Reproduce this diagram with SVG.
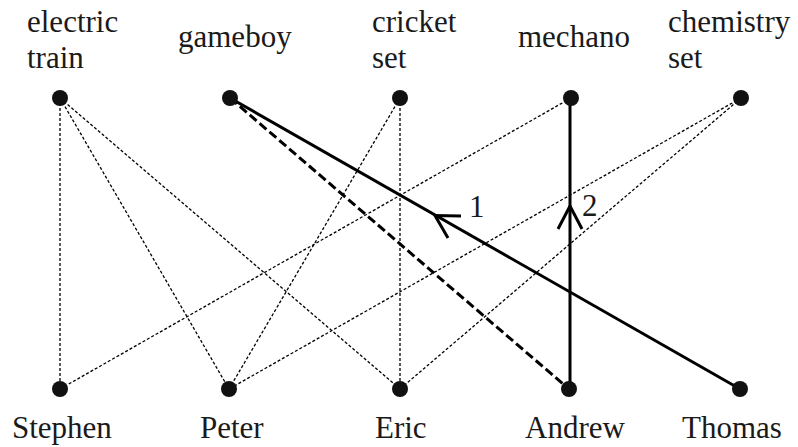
<svg xmlns="http://www.w3.org/2000/svg" width="798" height="447" viewBox="0 0 798 447">
<style>
text{font-family:'Liberation Serif','Times New Roman',serif;font-size:31px;fill:#1a1a1a}
.dot{stroke:#000;stroke-width:1.3;stroke-dasharray:3,2;fill:none}
.solid{stroke:#000;stroke-width:3;fill:none}
.dash{stroke:#000;stroke-width:3;stroke-dasharray:9,4;fill:none}
.node circle{fill:#111}
</style>
<rect width="798" height="447" fill="#fff"/>
<g id="connectors">
<line class="dot" x1="60" y1="98" x2="60" y2="389"/>
<line class="dot" x1="60" y1="98" x2="229" y2="389"/>
<line class="dot" x1="60" y1="98" x2="400" y2="389"/>
<line class="dot" x1="400" y1="98" x2="229" y2="389"/>
<line class="dot" x1="400" y1="98" x2="400" y2="389"/>
<line class="dot" x1="571" y1="98" x2="60" y2="389"/>
<line class="dot" x1="741" y1="98" x2="229" y2="389"/>
<line class="dot" x1="741" y1="98" x2="400" y2="389"/>
<line class="dash" x1="230" y1="98" x2="569" y2="389"/>
<line class="solid" x1="230" y1="98" x2="740" y2="389"/>
<line class="solid" x1="570" y1="98" x2="570" y2="389"/>
<polyline class="solid" points="461,216 435,215.5 448,238"/>
<polyline class="solid" points="558,229 570,206 582,229"/>
</g>
<g id="arrow-labels">
<text x="469" y="217">1</text>
<text x="582" y="216">2</text>
</g>
<g id="electric-train" class="node"><circle cx="60" cy="98" r="8"/><text x="27" y="32">electric</text><text x="27" y="68">train</text></g>
<g id="gameboy" class="node"><circle cx="230" cy="98" r="8"/><text x="178" y="47">gameboy</text></g>
<g id="cricket-set" class="node"><circle cx="400" cy="98" r="8"/><text x="372" y="32">cricket</text><text x="372" y="68">set</text></g>
<g id="mechano" class="node"><circle cx="571" cy="98" r="8"/><text x="518" y="47">mechano</text></g>
<g id="chemistry-set" class="node"><circle cx="741" cy="98" r="8"/><text x="668" y="32">chemistry</text><text x="668" y="68">set</text></g>
<g id="stephen" class="node"><circle cx="60" cy="389" r="8"/><text x="12" y="438">Stephen</text></g>
<g id="peter" class="node"><circle cx="229" cy="389" r="8"/><text x="200" y="438">Peter</text></g>
<g id="eric" class="node"><circle cx="400" cy="389" r="8"/><text x="375" y="438">Eric</text></g>
<g id="andrew" class="node"><circle cx="569" cy="389" r="8"/><text x="525" y="438">Andrew</text></g>
<g id="thomas" class="node"><circle cx="740" cy="389" r="8"/><text x="682" y="438">Thomas</text></g>
</svg>
